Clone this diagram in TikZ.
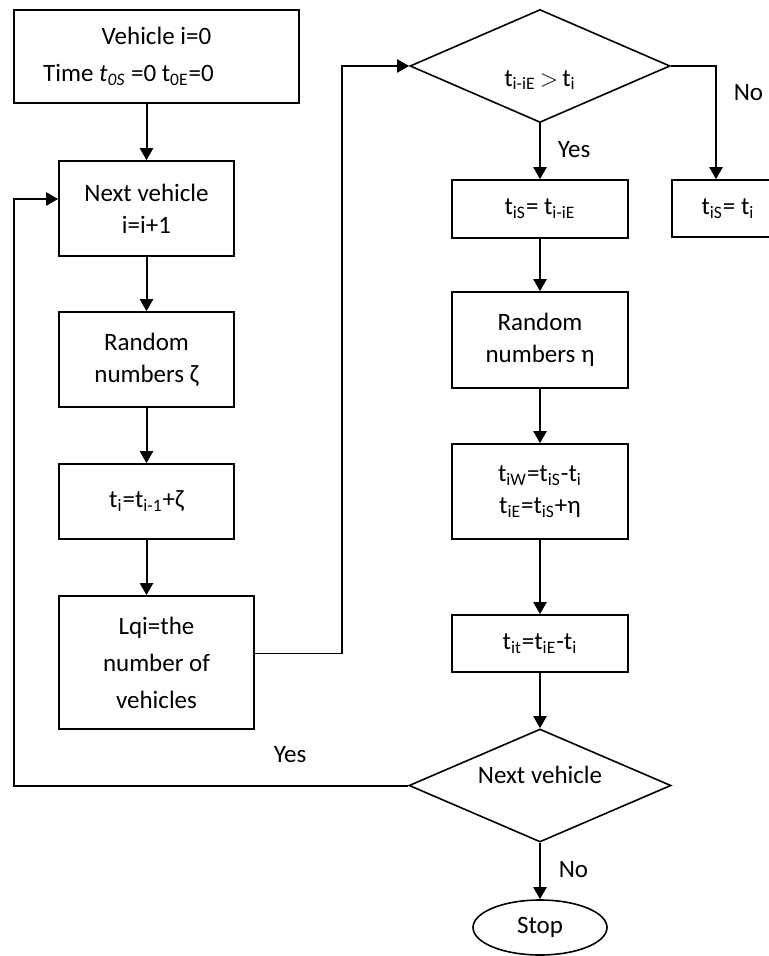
\documentclass[tikz,border=0pt]{standalone}
\usepackage{fontspec}
\setmainfont{Carlito}
\usetikzlibrary{shapes.geometric,arrows.meta}

\begin{document}
\begin{tikzpicture}[x=0.5pt, y=-0.5pt, line width=0.8pt,
		font=\fontsize{12.5}{16}\selectfont,
		box/.style={draw, rectangle, align=center, inner sep=2pt},
		dec/.style={draw, diamond, inner sep=0pt, align=center},
		term/.style={draw, ellipse, inner sep=0pt},
		arr/.style={-{Triangle[length=6pt,width=6.5pt]}, line width=1pt},
		lab/.style={inner sep=0pt, anchor=west}]
		
		\useasboundingbox (0,0) rectangle (769,956);
		
		% left column
		\node[box, minimum width=142.5pt, minimum height=46.5pt] (start) at (156.5,56.5) {Vehicle i=0\\[2.5pt]Time \textit{t}\textsubscript{\textit{0S}} =0 t\textsubscript{0E}=0\hspace*{28pt}};
		\node[box, minimum width=87.5pt, minimum height=47.5pt] (next) at (146.5,208.5) {Next vehicle\\i=i+1};
		\node[box, minimum width=87.5pt, minimum height=47.5pt] (randz) at (146.5,359.5) {Random\\numbers ζ};
		\node[box, minimum width=87.5pt, minimum height=37.5pt] (ti) at (146.5,501.5) {t\textsubscript{i}=t\textsubscript{i-1}+ζ};
		\node[box, minimum width=97.5pt, minimum height=66.5pt] (lqi) at (156.5,662.5) {Lqi=the\\[2.5pt]number of\\[2.5pt]vehicles};
		
		% right column
		\node[dec, minimum width=130pt, minimum height=56.5pt, label={[yshift=-7pt]center:t\textsubscript{i-iE}\,$>$\,t\textsubscript{i}}] (dec1) at (540,66) {};
		\node[box, minimum width=88pt, minimum height=29pt] (tise) at (540,209) {t\textsubscript{iS}= t\textsubscript{i-iE}};
		\node[box, minimum width=56pt, minimum height=28.5pt] (tisi) at (728,208.5) {t\textsubscript{iS}= t\textsubscript{i}};
		\node[box, minimum width=88pt, minimum height=48pt] (randeta) at (540,340) {Random\\numbers η};
		\node[box, minimum width=88pt, minimum height=47.5pt] (tiw) at (540,491.5) {t\textsubscript{iW}=t\textsubscript{iS}-t\textsubscript{i}\\t\textsubscript{iE}=t\textsubscript{iS}+η};
		\node[box, minimum width=88pt, minimum height=28.5pt] (tit) at (540,643.5) {t\textsubscript{it}=t\textsubscript{iE}-t\textsubscript{i}};
		\node[dec, minimum width=131pt, minimum height=56.5pt, label={[yshift=5.5pt]center:Next vehicle}] (dec2) at (540,785.5) {};
		\node[term, minimum width=67pt, minimum height=27.5pt] (stop) at (540,927.5) {Stop};
		
		\coordinate (up) at (342,0);
		\coordinate (nox) at (716,0);
		\coordinate (back) at (14,199);
		
		\draw[arr] (start.south -| next.north) -- (next.north);
		\draw[arr] (next) -- (randz);
		\draw[arr] (randz) -- (ti);
		\draw[arr] (ti.south) -- (ti.south |- lqi.north);
		\draw (lqi.east) ++(0,-9) coordinate (lqiout) -- (lqiout -| up);
		\draw[arr] (lqiout -| up) -- (up |- dec1.west) -- (dec1.west);
		
		\draw[arr] (dec1) -- (tise);
		\draw[arr] (dec1.east) -| (nox |- tisi.north);
		\draw[arr] (tise) -- (randeta);
		\draw[arr] (randeta) -- (tiw);
		\draw[arr] (tiw) -- (tit);
		\draw[arr] (tit) -- (dec2);
		\draw[arr] (dec2) -- (stop);
		\draw[arr] (dec2.west) -| (back) -- (back -| next.west);
		
		\node[lab] (yes1) at (557,150) {Yes};
		\node[lab] (no1) at (733,93) {No};
		\node[lab] (yes2) at (273,755) {Yes};
		\node[lab] (no2) at (558,870) {No};
	\end{tikzpicture}
\end{document}
